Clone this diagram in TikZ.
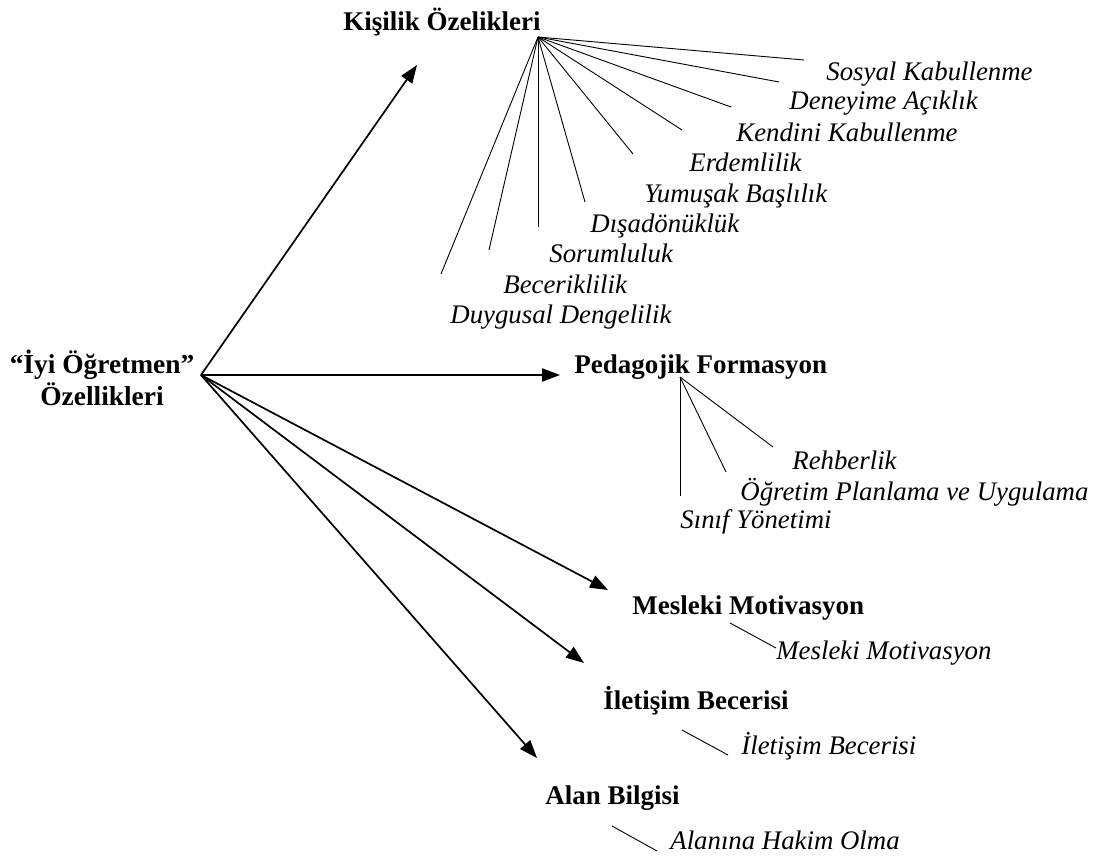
\documentclass[tikz,border=0pt]{standalone}
\usepackage{fontspec}
\setmainfont{Liberation Serif}
\usetikzlibrary{arrows.meta}
\begin{document}
\begin{tikzpicture}[x=0.5pt,y=-0.5pt,
  main/.style={font=\fontsize{13.5}{16}\selectfont\bfseries, inner sep=0pt, anchor=base west},
  sub/.style={font=\fontsize{13.4}{16}\selectfont\itshape, inner sep=0pt, anchor=base west},
  arr/.style={line width=0.85pt, -{Triangle[length=9pt,width=6.6pt]}},
  thin/.style={line width=0.45pt}]
\useasboundingbox (0,0) rectangle (1093,856);
% central node
\node[font=\fontsize{13.7}{16}\selectfont\bfseries, inner sep=0pt, align=center, anchor=base] (root) at (102,405) {“İyi Öğretmen”\\Özellikleri};
\coordinate (hub) at (201,375);
% main categories
\node[main] (kis) at (343,31) {Kişilik Özelikleri};
\node[main] (ped) at (574,373) {Pedagojik Formasyon};
\node[main] (mes) at (632,614) {Mesleki Motivasyon};
\node[main] (ile) at (603,709) {İletişim Becerisi};
\node[main] (alan) at (545,804) {Alan Bilgisi};
% arrow tips
\coordinate (tkis) at (417,65);
\coordinate (tped) at (560,375);
\coordinate (tmes) at (608,590);
\coordinate (tile) at (584,663);
\coordinate (talan) at (537,758);
\draw[arr] (hub) -- (tkis);
\draw[arr] (hub) -- (tped);
\draw[arr] (hub) -- (tmes);
\draw[arr] (hub) -- (tile);
\draw[arr] (hub) -- (talan);
% Kisilik fan
\coordinate (fk) at (538,37);
\node[sub] (s1) at (826,81) {Sosyal Kabullenme};
\node[sub] (s2) at (789,110) {Deneyime Açıklık};
\node[sub] (s3) at (736,141) {Kendini Kabullenme};
\node[sub] (s4) at (689,171) {Erdemlilik};
\node[sub] (s5) at (644,202) {Yumuşak Başlılık};
\node[sub] (s6) at (590,233) {Dışadönüklük};
\node[sub] (s7) at (549,263) {Sorumluluk};
\node[sub] (s8) at (503,293) {Beceriklilik};
\node[sub] (s9) at (450,323) {Duygusal Dengelilik};
\coordinate (e1) at (804,60);
\coordinate (e2) at (779,82);
\coordinate (e3) at (731,107);
\coordinate (e4) at (682,130);
\coordinate (e5) at (633,154);
\coordinate (e6) at (585,202);
\coordinate (e7) at (538,227);
\coordinate (e8) at (489,250);
\coordinate (e9) at (441,274);
\foreach \i in {1,...,9} {\draw[thin] (fk) -- (e\i);}
% Pedagojik fan
\coordinate (fp) at (680,377);
\node[sub] (p1) at (792,469) {Rehberlik};
\node[sub] (p2) at (740,500) {Öğretim Planlama ve Uygulama};
\node[sub] (p3) at (680,528) {Sınıf Yönetimi};
\coordinate (q1) at (773,447);
\coordinate (q2) at (726,472);
\coordinate (q3) at (680,496);
\foreach \i in {1,2,3} {\draw[thin] (fp) -- (q\i);}
% single subitems
\node[sub] (m1) at (776,659) {Mesleki Motivasyon};
\node[sub] (i1) at (741,754) {İletişim Becerisi};
\node[sub] (a1) at (670,849) {Alanına Hakim Olma};
\coordinate (ms) at (730,623); \coordinate (me) at (776,648);
\coordinate (is) at (682,730); \coordinate (ie) at (728,755);
\coordinate (as) at (612,826); \coordinate (ae) at (657,851);
\draw[thin] (ms) -- (me);
\draw[thin] (is) -- (ie);
\draw[thin] (as) -- (ae);
\end{tikzpicture}
\end{document}
